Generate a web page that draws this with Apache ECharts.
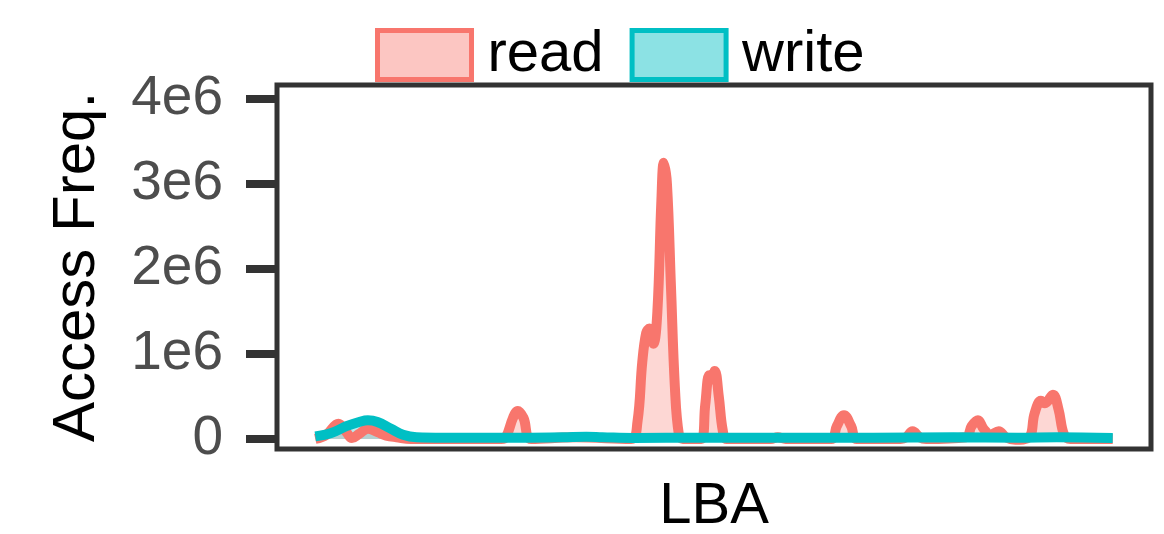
<!DOCTYPE html>
<html>
<head>
<meta charset="utf-8">
<script src="https://cdn.jsdelivr.net/npm/echarts@6/dist/echarts.min.js"></script>
<style>html,body{margin:0;padding:0;background:#fff;}#c{width:1164px;height:534px;}</style>
</head>
<body>
<div id="c"></div>
<script>
// LBA position (normalized 0-100) and access frequency
const readLBA = [0,1.4,2.9,3.9,4.6,5.5,6.6,7.8,8.9,10.2,12.0,23.3,23.9,24.8,25.4,26.1,27.1,32.7,39.6,40.4,41.0,41.5,41.9,42.4,42.9,43.4,43.7,44.1,44.6,45.1,45.6,46.1,48.4,48.9,49.4,49.7,50.1,50.6,51.1,51.6,57.1,58.0,59.0,64.7,65.4,66.3,67.2,67.9,73.4,74.1,74.9,75.8,76.6,81.6,82.3,83.1,83.8,84.7,85.7,86.6,87.8,89.5,90.2,91.0,91.5,92.5,93.2,93.9,94.7,100];
const readFreq = [0,0.05e6,0.18e6,0.08e6,0.01e6,0.06e6,0.12e6,0.08e6,0.04e6,0.02e6,0,0,0.02e6,0.25e6,0.33e6,0.25e6,0,0.02e6,0,0.2e6,0.9e6,1.25e6,1.3e6,1.12e6,1.5e6,2.8e6,3.25e6,3.0e6,1.8e6,0.6e6,0.05e6,0,0,0.4e6,0.75e6,0.7e6,0.8e6,0.5e6,0.1e6,0,0,0.02e6,0,0,0.15e6,0.28e6,0.15e6,0,0,0.02e6,0.09e6,0.02e6,0,0.02e6,0.15e6,0.22e6,0.12e6,0.05e6,0.09e6,0.02e6,-0.01e6,0.02e6,0.3e6,0.45e6,0.42e6,0.52e6,0.35e6,0.05e6,0,0];
const writeLBA = [0,2.0,3.9,5.5,6.6,7.8,9.5,11.0,12.7,16,25,31,34,36,40,48,60,70,80,88,93,100];
const writeFreq = [0.03e6,0.07e6,0.15e6,0.2e6,0.22e6,0.2e6,0.12e6,0.05e6,0.02e6,0.015e6,0.015e6,0.02e6,0.025e6,0.02e6,0.012e6,0.015e6,0.015e6,0.015e6,0.02e6,0.015e6,0.02e6,0.012e6];
const yTicks = [0,1e6,2e6,3e6,4e6];
const yTickLabels = ['0','1e6','2e6','3e6','4e6'];

const FONT = 'Liberation Sans';
const chart = echarts.init(document.getElementById('c'), null, {renderer:'canvas'});
const zip = (a,b) => a.map((v,i)=>[v,b[i]]);
chart.setOption({
  backgroundColor:'#fff',
  animation:false,
  legend:{
    left:370, top:21,
    itemWidth:94, itemHeight:49, itemGap:26,
    textStyle:{fontFamily:FONT, fontSize:58, color:'#000', padding:[0,0,0,11]},
    data:[
      {name:'read', icon:'rect', itemStyle:{color:'rgba(248,118,109,0.42)', borderColor:'#F8766D', borderWidth:5}},
      {name:'write', icon:'rect', itemStyle:{color:'rgba(0,191,196,0.45)', borderColor:'#00BFC4', borderWidth:5}}
    ]
  },
  grid:{left:277, right:13, top:85, bottom:85, outerBoundsMode:'none', containLabel:false,
    show:true, borderColor:'#333', borderWidth:5, backgroundColor:'#fff'},
  xAxis:{
    type:'value', min:-4.8, max:104.8,
    axisLine:{show:false, onZero:false}, axisTick:{show:false}, axisLabel:{show:false}, splitLine:{show:false},
    name:'LBA', nameLocation:'middle', nameGap:29,
    nameTextStyle:{fontFamily:FONT, fontSize:58, color:'#000'}
  },
  yAxis:{
    type:'value', min:-0.118e6, max:4.165e6,
    axisLine:{show:false, onZero:false},
    splitLine:{show:false},
    axisTick:{show:true, inside:false, customValues:yTicks, length:31, lineStyle:{color:'#333', width:8}},
    axisLabel:{show:true, customValues:yTicks, margin:54, fontFamily:FONT, fontSize:55, color:'#4d4d4d',
      formatter:(v)=>{const i=yTicks.indexOf(v); return i>=0?yTickLabels[i]:'';}},
    name:'Access Freq.', nameLocation:'middle', nameGap:170,
    nameTextStyle:{fontFamily:FONT, fontSize:60, color:'#000'}
  },
  series:[
    {name:'read', type:'line', data:zip(readLBA,readFreq), smooth:0.4, showSymbol:false,
      lineStyle:{color:'#F8766D', width:10}, itemStyle:{color:'#F8766D'},
      areaStyle:{color:'rgba(248,118,109,0.42)'}},
    {name:'write', type:'line', data:zip(writeLBA,writeFreq), smooth:0.4, showSymbol:false,
      lineStyle:{color:'#00BFC4', width:10}, itemStyle:{color:'#00BFC4'},
      areaStyle:{color:'rgba(0,191,196,0.4)'}}
  ]
});
</script>
</body>
</html>
